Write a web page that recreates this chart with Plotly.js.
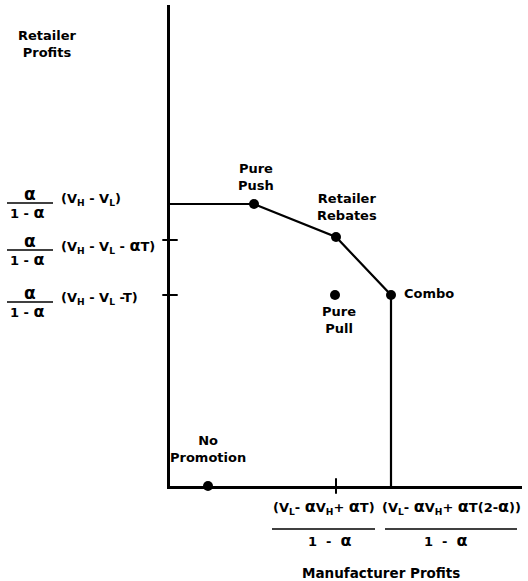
<!DOCTYPE html>
<html>
<head>
<meta charset="utf-8">
<script src="https://cdn.plot.ly/plotly-3.0.1.min.js"></script>
<style>html,body{margin:0;padding:0;background:#fff;}#chart{width:528px;height:581px;}</style>
</head>
<body>
<div id="chart"></div>
<script>
// ---- data (arbitrary profit units) ----
const pointNames  = ['Pure Push', 'Retailer Rebates', 'Combo', 'Pure Pull', 'No Promotion'];
const pointLabels = ['Pure<br>Push', 'Retailer<br>Rebates', 'Combo', 'Pure<br>Pull', 'No<br>Promotion'];
const manufacturerProfit = [84, 166, 221, 165, 38];
const retailerProfit     = [282, 249, 191, 191, 0];

// frontier: from retailer axis, through Pure Push, Retailer Rebates, Combo, down to manufacturer axis
const frontierPoints = ['Pure Push', 'Retailer Rebates', 'Combo'];

const A = '<span style="font-size:16px">α</span>';
const yTickVals  = [282, 246, 191];
const yTickExprs = ['(V<sub>H</sub> - V<sub>L</sub>)',
                    '(V<sub>H</sub> - V<sub>L</sub> - ' + A + 'T)',
                    '(V<sub>H</sub> - V<sub>L</sub> -T)'];
const xTickVals  = [166, 221];
const xTickExprs = ['(V<sub>L</sub>- ' + A + 'V<sub>H</sub>+ ' + A + 'T)',
                    '(V<sub>L</sub>- ' + A + 'V<sub>H</sub>+ ' + A + 'T(2-' + A + '))'];

const xTitle = 'Manufacturer Profits';
const yTitle = 'Retailer<br>Profits';

// ---- styling / layout helpers ----
const FONT = {family: 'DejaVu Sans', size: 13, color: '#000', weight: 'bold'};
const AFONT = {family: 'DejaVu Sans', size: 17, color: '#000', weight: 'bold'};
const L = 170, R = 6, T = 5, B = 95, W = 528, H = 581;
const PW = W - L - R, PH = H - T - B;

const fx = [], fy = [];
const first = pointNames.indexOf(frontierPoints[0]);
fx.push(0); fy.push(retailerProfit[first]);
frontierPoints.forEach(n => { const i = pointNames.indexOf(n); fx.push(manufacturerProfit[i]); fy.push(retailerProfit[i]); });
const last = pointNames.indexOf(frontierPoints[frontierPoints.length - 1]);
fx.push(manufacturerProfit[last]); fy.push(0);

const traces = [
  {x: fx, y: fy, mode: 'lines', line: {color: '#000', width: 2.2}, cliponaxis: false, hoverinfo: 'skip'},
  {x: manufacturerProfit, y: retailerProfit, mode: 'markers', marker: {color: '#000', size: 10}, cliponaxis: false, text: pointNames},
  {x: yTickVals.slice(1).map(() => 0), y: yTickVals.slice(1), mode: 'markers', cliponaxis: false,
   marker: {symbol: 'line-ew', size: 11, line: {color: '#000', width: 2}}, hoverinfo: 'skip'},
  {x: xTickVals.slice(0, 1), y: [0], mode: 'markers', cliponaxis: false,
   marker: {symbol: 'line-ns', size: 11, line: {color: '#000', width: 2}}, hoverinfo: 'skip'}
];

// label offsets (pixels) relative to each point
const labelShift = [[2, 27, 'center'], [11, 30, 'center'], [11, 2, 'left'], [4, -25, 'center'], [0, 37, 'center']];

const annotations = [];
const shapes = [];
pointLabels.forEach((t, i) => {
  annotations.push({xref: 'x', yref: 'y', x: manufacturerProfit[i], y: retailerProfit[i], text: t, showarrow: false,
    xanchor: labelShift[i][2], yanchor: 'middle', xshift: labelShift[i][0], yshift: labelShift[i][1], font: FONT});
});

// y tick labels: fraction alpha / (1 - alpha) followed by expression
const yBarOff = [1, -10, -7];
yTickVals.forEach((v, i) => {
  const b = yBarOff[i];
  annotations.push({xref: 'paper', yref: 'y', x: 0, y: v, xshift: 30 - L, yshift: b + 9, text: 'α', showarrow: false, xanchor: 'center', yanchor: 'middle', font: AFONT});
  annotations.push({xref: 'paper', yref: 'y', x: 0, y: v, xshift: 27 - L, yshift: b - 9, text: '1 - ' + A, showarrow: false, xanchor: 'center', yanchor: 'middle', font: FONT});
  annotations.push({xref: 'paper', yref: 'y', x: 0, y: v, xshift: 59 - L, yshift: b + 4, text: yTickExprs[i], showarrow: false, xanchor: 'left', yanchor: 'middle', font: FONT});
  shapes.push({type: 'line', xref: 'paper', yref: 'y', xsizemode: 'pixel', ysizemode: 'pixel', xanchor: 0, yanchor: v,
    x0: 7 - L, x1: 53 - L, y0: b, y1: b, line: {color: '#000', width: 1.3}});
});

// x tick labels
const xExprShift = [-12, 60], xDenShift = [-6, 55], xBar = [[-64, 39], [-6, 126]];
xTickVals.forEach((v, i) => {
  annotations.push({xref: 'x', yref: 'paper', x: v, y: 0, xshift: xExprShift[i], yshift: -21, text: xTickExprs[i], showarrow: false, xanchor: 'center', yanchor: 'middle', font: FONT});
  annotations.push({xref: 'x', yref: 'paper', x: v, y: 0, xshift: xDenShift[i], yshift: -54, text: '1 \u00a0-\u00a0 ' + A, showarrow: false, xanchor: 'center', yanchor: 'middle', font: FONT});
  shapes.push({type: 'line', xref: 'x', yref: 'paper', xsizemode: 'pixel', ysizemode: 'pixel', xanchor: v, yanchor: 0,
    x0: xBar[i][0], x1: xBar[i][1], y0: -43, y1: -43, line: {color: '#000', width: 1.3}});
});

// axis titles
annotations.push({xref: 'paper', yref: 'paper', x: (48 - L) / PW, y: (H - B - 44) / PH, text: yTitle, showarrow: false, xanchor: 'center', yanchor: 'middle', font: FONT});
annotations.push({xref: 'paper', yref: 'paper', x: (381 - L) / PW, y: (H - B - 573) / PH, text: xTitle, showarrow: false, xanchor: 'center', yanchor: 'middle',
  font: Object.assign({}, FONT, {size: 13.5})});

const layout = {
  width: W, height: H,
  margin: {l: L, r: R, t: T, b: B, pad: 0},
  paper_bgcolor: '#fff', plot_bgcolor: '#fff',
  showlegend: false,
  hovermode: false,
  xaxis: {range: [0, PW], showgrid: false, zeroline: false, showticklabels: false, ticks: '',
          showline: true, linecolor: '#000', linewidth: 2.5, fixedrange: true},
  yaxis: {range: [0, PH], showgrid: false, zeroline: false, showticklabels: false, ticks: '',
          showline: true, linecolor: '#000', linewidth: 2.5, fixedrange: true},
  annotations: annotations,
  shapes: shapes,
  font: FONT
};

Plotly.newPlot('chart', traces, layout, {displayModeBar: false});
</script>
</body>
</html>
